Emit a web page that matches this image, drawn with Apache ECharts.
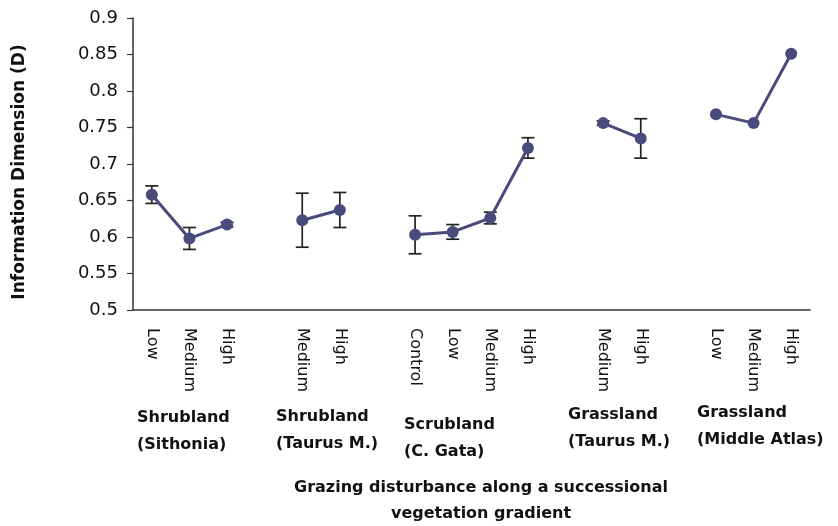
<!DOCTYPE html>
<html><head><meta charset="utf-8">
<script src="https://cdn.jsdelivr.net/npm/echarts@6/dist/echarts.min.js"></script>
<style>html,body{margin:0;padding:0;background:#fff}#c{width:838px;height:526px}</style>
</head><body><div id="c"></div>
<script>
var categories = ['Low','Medium','High','','Medium','High','','Control','Low','Medium','High','','Medium','High','','Low','Medium','High'];
var means = [0.658,0.598,0.617,null,0.623,0.637,null,0.603,0.607,0.626,0.722,null,0.756,0.735,null,0.768,0.756,0.851];
var errors = [0.012,0.015,0.003,null,0.037,0.024,null,0.026,0.010,0.008,0.014,null,0.003,0.027,null,0,0,0];
var groupLabels = ['Shrubland\n(Sithonia)','Shrubland\n(Taurus M.)','Scrubland\n(C. Gata)','Grassland\n(Taurus M.)','Grassland\n(Middle Atlas)'];
var yTicks = {min:0.5, max:0.9, interval:0.05};
var xTitleLines = ['Grazing disturbance along a successional','vegetation gradient'];
var yTitle = 'Information Dimension (D)';

var FONT = '"DejaVu Sans", Verdana, sans-serif';
var chart = echarts.init(document.getElementById('c'), null, {renderer:'canvas'});
var errData = [];
for (var i=0;i<means.length;i++){ if(means[i]!==null && errors[i]) errData.push([i, means[i]-errors[i], means[i]+errors[i]]); }
var groupPos = [[137,404],[276,403],[404,411],[568,401],[697,399]];
var graphics = groupLabels.map(function(t,k){
  return {type:'text', left:groupPos[k][0], top:groupPos[k][1], style:{text:t, font:'bold 16px '+FONT, fill:'#111', lineHeight:27}};
});
xTitleLines.forEach(function(t,k){
  graphics.push({type:'text', x:481, y:488+k*26, style:{text:t, font:'bold 16px '+FONT, fill:'#111', align:'center', verticalAlign:'middle'}});
});
graphics.push({type:'text', x:20, y:172, rotation:Math.PI/2, style:{text:yTitle, font:'bold 17px '+FONT, fill:'#111', align:'center', verticalAlign:'middle'}});
chart.setOption({
  animation:false,
  textStyle:{fontFamily:FONT},
  grid:{left:133, right:28, top:18, bottom:216},
  xAxis:{type:'category', data:categories, boundaryGap:true,
    axisLine:{lineStyle:{color:'#333', width:1.5}}, axisTick:{show:false},
    axisLabel:{rotate:-90, interval:0, margin:18, fontSize:16, color:'#111', fontFamily:FONT}},
  yAxis:{type:'value', min:yTicks.min, max:yTicks.max, interval:yTicks.interval,
    splitLine:{show:false},
    axisLine:{show:true, lineStyle:{color:'#333', width:1.5}},
    axisTick:{show:true, length:6, lineStyle:{color:'#333', width:1.2}},
    axisLabel:{fontSize:18, color:'#111', margin:15, fontFamily:FONT,
      formatter:function(v){return String(+v.toFixed(2));}}},
  graphic:graphics,
  series:[
    {type:'line', data:means, connectNulls:false, symbol:'circle', symbolSize:12,
     lineStyle:{color:'#4a4a7c', width:3}, itemStyle:{color:'#4a4a7c'}, z:3},
    {type:'custom', data:errData, z:2,
     renderItem:function(params, api){
       var x = api.value(0);
       var lo = api.coord([x, api.value(1)]);
       var hi = api.coord([x, api.value(2)]);
       var w = 13;
       var st = {stroke:'#222', lineWidth:1.7};
       return {type:'group', children:[
         {type:'line', shape:{x1:lo[0], y1:lo[1], x2:hi[0], y2:hi[1]}, style:st},
         {type:'line', shape:{x1:lo[0]-w/2, y1:lo[1], x2:lo[0]+w/2, y2:lo[1]}, style:st},
         {type:'line', shape:{x1:hi[0]-w/2, y1:hi[1], x2:hi[0]+w/2, y2:hi[1]}, style:st}
       ]};
     }}
  ]
});
</script></body></html>
